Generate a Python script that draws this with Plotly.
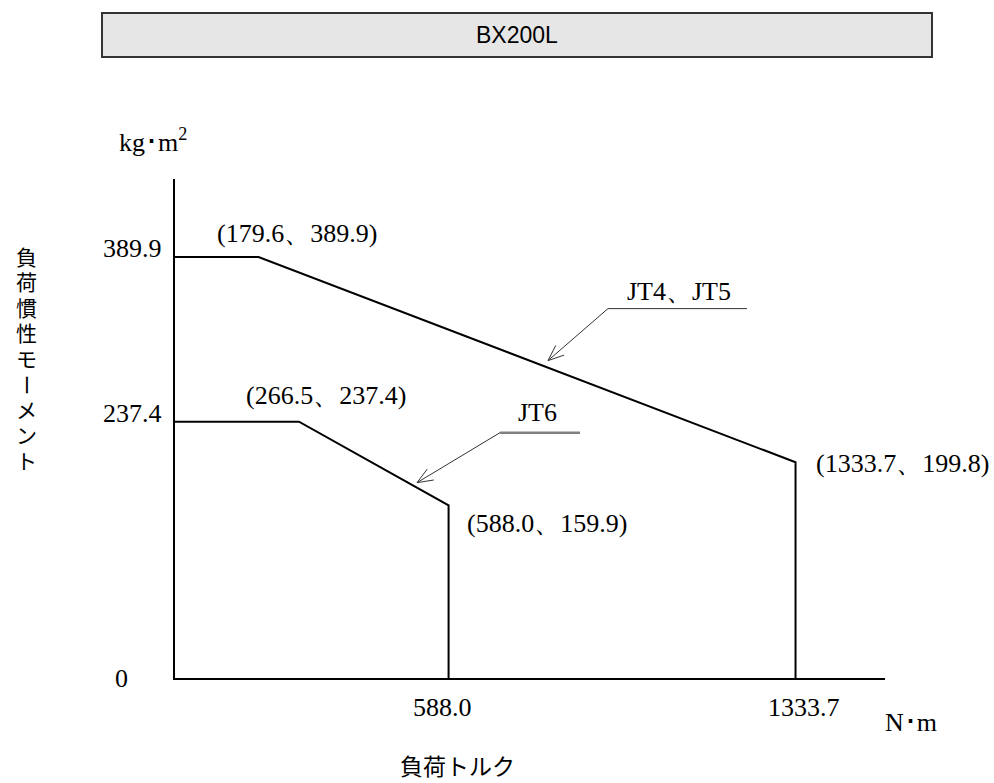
import math
import plotly.graph_objects as go

# Allowable load-inertia vs load-torque envelopes
chart_title = "BX200L"

jt45_name = "JT4、JT5"
jt45_torque = [0.0, 179.6, 1333.7, 1333.7]
jt45_inertia = [389.9, 389.9, 199.8, 0.0]

jt6_name = "JT6"
jt6_torque = [0.0, 266.5, 588.0, 588.0]
jt6_inertia = [237.4, 237.4, 159.9, 0.0]

x_tick_values = [588.0, 1333.7]
y_tick_values = [389.9, 237.4]

x_unit = "N･m"
y_unit = "kg･m<sup>2</sup>"
x_title = "負荷トルク"
y_title = "負荷慣性モーメント"

SERIF = "Liberation Serif, Times New Roman, serif"
CJK = "Noto Sans CJK JP, sans-serif"
# Latin face first keeps the line box compact; the kanji/kana fall back to CJK
CJK_TIGHT = "Liberation Sans, Noto Sans CJK JP, sans-serif"
SANS = "Liberation Sans, Arial, sans-serif"

W, H = 994, 783
M_L, M_R, M_T, M_B = 175, 109, 179, 105
X_RANGE = [0, 1526]
Y_RANGE = [0, 462.1]


def px_to_paper_x(px):
    return (px - M_L) / (W - M_L - M_R)


def px_to_paper_y(py):
    return (H - M_B - py) / (H - M_T - M_B)


fig = go.Figure()

for xs, ys in ((jt45_torque, jt45_inertia), (jt6_torque, jt6_inertia)):
    fig.add_trace(go.Scatter(
        x=xs, y=ys, mode="lines",
        line=dict(color="black", width=2),
        hoverinfo="skip", showlegend=False,
    ))

annotations = []
shapes = []

# corner-point labels: (x, y, anchor, xshift, yshift)
corner_labels = [
    (jt45_torque[1], jt45_inertia[1], "center", 38, 23),
    (jt6_torque[1], jt6_inertia[1], "center", 27, 26),
    (jt6_torque[2], jt6_inertia[2], "left", 16, -18),
    (jt45_torque[2], jt45_inertia[2], "left", 18, -1),
]
for x, y, anchor, dx, dy in corner_labels:
    annotations.append(dict(
        x=x, y=y, xref="x", yref="y", text=f"({x:.1f}、{y:.1f})",
        showarrow=False, xanchor=anchor, yanchor="middle",
        xshift=dx, yshift=dy, font=dict(family=SERIF, size=26, color="black"),
    ))

# axis value labels
for v, dx in zip(x_tick_values, (-6, 8)):
    annotations.append(dict(
        x=v, y=0, xref="x", yref="y", text=f"{v:.1f}", showarrow=False,
        xanchor="center", yanchor="middle", xshift=dx, yshift=-29,
        font=dict(family=SERIF, size=26, color="black"),
    ))
for v in y_tick_values:
    annotations.append(dict(
        x=0, y=v, xref="x", yref="y", text=f"{v:.1f}", showarrow=False,
        xanchor="right", yanchor="middle", xshift=-11, yshift=8,
        font=dict(family=SERIF, size=26, color="black"),
    ))
annotations.append(dict(
    x=0, y=0, xref="x", yref="y", text="0", showarrow=False,
    xanchor="center", yanchor="middle", xshift=-54, yshift=0,
    font=dict(family=SERIF, size=26, color="black"),
))

# units
annotations.append(dict(
    x=px_to_paper_x(153), y=px_to_paper_y(141), xref="paper", yref="paper",
    text=y_unit, showarrow=False, xanchor="center", yanchor="middle",
    font=dict(family=SERIF, size=26, color="black"),
))
annotations.append(dict(
    x=px_to_paper_x(911), y=px_to_paper_y(722), xref="paper", yref="paper",
    text=x_unit, showarrow=False, xanchor="center", yanchor="middle",
    font=dict(family=SERIF, size=26, color="black"),
))

# axis titles
annotations.append(dict(
    x=px_to_paper_x(457), y=px_to_paper_y(765), xref="paper", yref="paper",
    text=x_title, showarrow=False, xanchor="center", yanchor="middle",
    font=dict(family=CJK, size=23, color="black"),
))

# vertical y title: one character per row, the long-vowel mark turned upright
Y_TITLE_TOP, Y_TITLE_STEP = 257, 25.5
for i, ch in enumerate(y_title):
    annotations.append(dict(
        x=px_to_paper_x(26), y=px_to_paper_y(Y_TITLE_TOP + i * Y_TITLE_STEP),
        xref="paper", yref="paper", text=ch, showarrow=False,
        xanchor="center", yanchor="middle", borderpad=0,
        textangle=90 if ch == "ー" else 0,
        font=dict(family=CJK_TIGHT, size=21, color="black"),
    ))

# title box
shapes.append(dict(
    type="rect", xref="paper", yref="paper",
    x0=px_to_paper_x(102), x1=px_to_paper_x(932),
    y0=px_to_paper_y(57), y1=px_to_paper_y(13),
    fillcolor="#e6e6e6", line=dict(color="#333333", width=2), layer="below",
))
annotations.append(dict(
    x=px_to_paper_x(517), y=px_to_paper_y(35), xref="paper", yref="paper",
    text=chart_title, showarrow=False, xanchor="center", yanchor="middle",
    font=dict(family=SANS, size=23, color="black"),
))


def add_pointer(xs, ys, seg, t, tip, tail, leader_end, label_off, text,
                leader_color, leader_width):
    """Leader line with an open arrowhead pointing at a point on a segment."""
    i = seg
    ax = xs[i] + t * (xs[i + 1] - xs[i])
    ay = ys[i] + t * (ys[i + 1] - ys[i])
    common = dict(xref="x", yref="y", xsizemode="pixel", ysizemode="pixel",
                  xanchor=ax, yanchor=ay, type="line")
    shapes.append(dict(common, x0=tip[0], y0=tip[1], x1=tail[0], y1=tail[1],
                       line=dict(color="#333333", width=1)))
    shapes.append(dict(common, x0=tail[0], y0=tail[1],
                       x1=leader_end[0], y1=leader_end[1],
                       line=dict(color=leader_color, width=leader_width)))
    ang = math.atan2(tail[1] - tip[1], tail[0] - tip[0])
    for s in (1, -1):
        a = ang + s * math.radians(22)
        shapes.append(dict(common, x0=tip[0], y0=tip[1],
                           x1=tip[0] + 17 * math.cos(a),
                           y1=tip[1] + 17 * math.sin(a),
                           line=dict(color="#333333", width=1)))
    annotations.append(dict(
        x=ax, y=ay, xref="x", yref="y", text=text, showarrow=False,
        xanchor="center", yanchor="middle",
        xshift=label_off[0], yshift=label_off[1],
        font=dict(family=SERIF, size=26, color="black"),
    ))


add_pointer(jt45_torque, jt45_inertia, 1, 0.539, (0, 7), (60, 59), (199, 59),
            (131, 76), jt45_name, "#333333", 1)
add_pointer(jt6_torque, jt6_inertia, 1, 0.789, (0, 5), (83, 55), (163, 55),
            (120, 75), jt6_name, "#808080", 2.5)

axis_common = dict(showgrid=False, zeroline=False, showticklabels=False,
                   ticks="", showline=True, linecolor="black", linewidth=2,
                   fixedrange=True)
fig.update_layout(
    width=W, height=H,
    margin=dict(l=M_L, r=M_R, t=M_T, b=M_B, pad=0),
    paper_bgcolor="white", plot_bgcolor="white",
    xaxis=dict(axis_common, range=X_RANGE),
    yaxis=dict(axis_common, range=Y_RANGE),
    annotations=annotations, shapes=shapes, showlegend=False,
)

fig.write_html("out.html")
